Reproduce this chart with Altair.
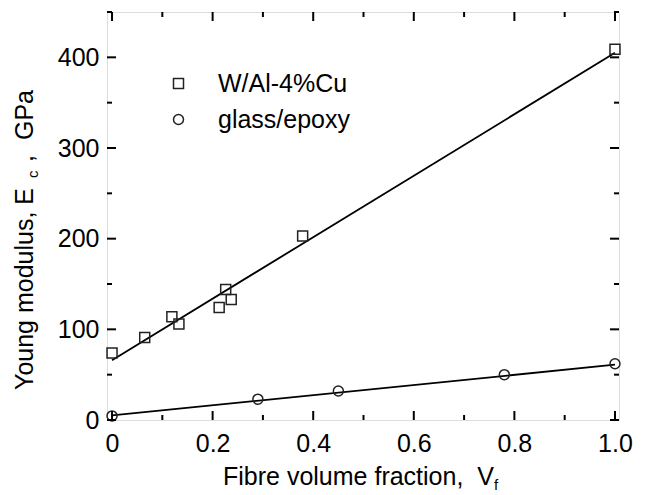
import altair as alt
import pandas as pd

# ---- data ----
series_names = ["W/Al-4%Cu", "glass/epoxy"]
w_vf = [0.0, 0.065, 0.119, 0.133, 0.213, 0.226, 0.237, 0.379, 1.0]
w_E = [74, 91, 114, 106, 124, 144, 133, 203, 409]
g_vf = [0.0, 0.29, 0.45, 0.78, 1.0]
g_E = [4.5, 23, 32, 50, 62]
fit_vf = [0.0, 1.0]
w_fit_E = [66, 405]
g_fit_E = [5, 61]

x_major = [0.0, 0.2, 0.4, 0.6, 0.8, 1.0]
x_minor = [0.1, 0.3, 0.5, 0.7, 0.9]
y_major = [0, 100, 200, 300, 400]
y_minor = [50, 150, 250, 350, 450]

FONT = "Liberation Sans"
FS = 25
W, H = 512, 408
NB = "\u00a0"

pts = pd.DataFrame({
    "vf": w_vf + g_vf,
    "E": w_E + g_E,
    "series": [series_names[0]] * len(w_vf) + [series_names[1]] * len(g_vf),
})
fits = pd.DataFrame({
    "vf": fit_vf + fit_vf,
    "E": w_fit_E + g_fit_E,
    "series": [series_names[0]] * 2 + [series_names[1]] * 2,
})

xs = alt.Scale(domain=[-0.01, 1.008], nice=False, zero=False)
ys = alt.Scale(domain=[0, 450], nice=False, zero=False)

x_axis = alt.Axis(values=x_major, title=None, ticks=False, tickSize=0, domain=False,
                  grid=False, labelExpr="datum.value == 0 ? '0' : format(datum.value, '.1f')",
                  labelFont=FONT, labelFontSize=FS, labelColor="black", labelPadding=11)
y_axis = alt.Axis(values=y_major, title=None, ticks=False, tickSize=0, domain=False,
                  grid=False, format="d",
                  labelFont=FONT, labelFontSize=FS, labelColor="black", labelPadding=8)

lines = alt.Chart(fits).mark_line(color="black", strokeWidth=1.8).encode(
    x=alt.X("vf:Q", scale=xs, axis=x_axis),
    y=alt.Y("E:Q", scale=ys, axis=y_axis),
    detail="series:N",
)

points = alt.Chart(pts).mark_point(filled=False, size=100, strokeWidth=1.5,
                                   color="#222", opacity=1).encode(
    x=alt.X("vf:Q", scale=xs),
    y=alt.Y("E:Q", scale=ys),
    shape=alt.Shape("series:N",
                    scale=alt.Scale(domain=series_names, range=["square", "circle"]),
                    legend=alt.Legend(title=None, orient="none", legendX=59, legendY=59,
                                      labelFont=FONT, labelFontSize=FS, labelColor="black",
                                      labelOffset=27, symbolSize=100, symbolStrokeWidth=1.5,
                                      symbolStrokeColor="#222", symbolFillColor="transparent",
                                      rowPadding=10, padding=0)),
)

def xticks(vals, length):
    df = pd.DataFrame({"vf": vals})
    b = alt.Chart(df).mark_rule(color="black", strokeWidth=2).encode(
        x=alt.X("vf:Q", scale=xs), y=alt.value(H), y2=alt.value(H - length))
    t = alt.Chart(df).mark_rule(color="black", strokeWidth=2).encode(
        x=alt.X("vf:Q", scale=xs), y=alt.value(0), y2=alt.value(length))
    return [b, t]

def yticks(vals, length):
    df = pd.DataFrame({"E": vals})
    l = alt.Chart(df).mark_rule(color="black", strokeWidth=2).encode(
        y=alt.Y("E:Q", scale=ys), x=alt.value(0), x2=alt.value(length))
    r = alt.Chart(df).mark_rule(color="black", strokeWidth=2).encode(
        y=alt.Y("E:Q", scale=ys), x=alt.value(W), x2=alt.value(W - length))
    return [l, r]

one = pd.DataFrame({"a": [0]})

def label(text, x, y, size=FS, angle=0, align="left"):
    return alt.Chart(one).mark_text(text=text, font=FONT, fontSize=size, color="black",
                                    angle=angle, align=align, baseline="alphabetic").encode(
        x=alt.value(x), y=alt.value(y))

titles = [
    label("Fibre volume fraction," + NB + NB + "V", 116, 473),
    label("f", 387, 478, size=15),
    label("Young modulus, E", -74, 378, angle=270),
    label("c", -69, 166, size=15, angle=270),
    label(",", -74, 150, angle=270),
    label("GPa", -74, 128, angle=270),
]

layers = [lines, points] + xticks(x_major, 9) + xticks(x_minor, 5) + \
    yticks(y_major, 9) + yticks(y_minor, 5) + titles

chart = alt.layer(*layers).properties(
    width=W, height=H,
    autosize=alt.AutoSizeParams(type="none"),
    padding={"left": 99, "top": 4, "right": 15, "bottom": 80},
).configure_view(stroke="black", strokeWidth=2).configure(background="white")

chart.save("out.html", embed_options={"renderer": "svg", "actions": False})
